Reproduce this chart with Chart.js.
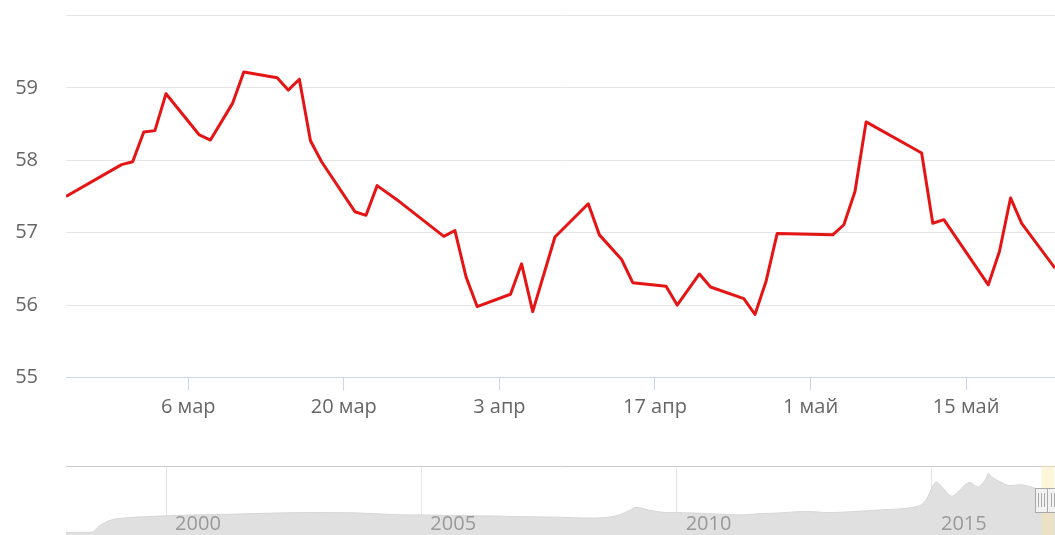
<!DOCTYPE html>
<html>
<head>
<meta charset="utf-8">
<script src="https://cdn.jsdelivr.net/npm/chart.js@4.4.1/dist/chart.umd.min.js"></script>
<style>
  html, body { margin:0; padding:0; background:#fff; width:1055px; height:535px; overflow:hidden; }
  #main { position:absolute; left:0; top:0; }
  #nav { position:absolute; left:0; top:460px; }
</style>
</head>
<body>
<canvas id="main" width="1055" height="430"></canvas>
<canvas id="nav" width="1055" height="80"></canvas>
<script>
// ---- Main series (USD/RUB, spring 2017) ----
const dates = ['2017-02-23','2017-02-28','2017-03-01','2017-03-02','2017-03-03','2017-03-04',
  '2017-03-07','2017-03-08','2017-03-10','2017-03-11','2017-03-14','2017-03-15','2017-03-16',
  '2017-03-17','2017-03-18','2017-03-21','2017-03-22','2017-03-23','2017-03-25','2017-03-29',
  '2017-03-30','2017-03-31','2017-04-01','2017-04-04','2017-04-05','2017-04-06','2017-04-08',
  '2017-04-11','2017-04-12','2017-04-14','2017-04-15','2017-04-18','2017-04-19','2017-04-21',
  '2017-04-22','2017-04-25','2017-04-26','2017-04-27','2017-04-28','2017-05-03','2017-05-04',
  '2017-05-05','2017-05-06','2017-05-11','2017-05-12','2017-05-13','2017-05-17','2017-05-18',
  '2017-05-19','2017-05-20','2017-05-23'];
const values = [57.50,57.94,57.98,58.39,58.41,58.92,
  58.35,58.28,58.79,59.22,59.14,58.97,59.12,
  58.27,57.98,57.29,57.24,57.65,57.43,56.95,
  57.03,56.39,55.98,56.15,56.57,55.91,56.94,
  57.40,56.97,56.63,56.31,56.26,56.00,56.43,
  56.25,56.09,55.87,56.33,56.99,56.97,57.11,
  57.57,58.53,58.10,57.13,57.18,56.28,56.74,
  57.48,57.13,56.51];
const xTickDates = ['2017-03-06','2017-03-20','2017-04-03','2017-04-17','2017-05-01','2017-05-15'];
const xTickLabels = ['6 мар','20 мар','3 апр','17 апр','1 май','15 май'];
const yTicks = [55,56,57,58,59,60];
const yTickLabels = ['55','56','57','58','59',''];
const rangeStart = '2017-02-23';
const rangeEnd = '2017-05-23';

// ---- Navigator series (long history, years) ----
const navYears = [1998.04,1998.55,1998.62,1998.7,1998.85,1999.0,1999.3,1999.9,2000.5,2001.2,
  2001.9,2002.5,2003.0,2003.8,2004.5,2005.1,2005.8,2006.4,2007.0,2007.6,2008.3,2008.6,2008.85,
  2009.1,2009.2,2009.45,2009.7,2010.0,2010.5,2010.9,2011.3,2011.6,2012.0,2012.5,2013.0,2013.5,
  2014.0,2014.3,2014.6,2014.8,2014.92,2014.97,2015.08,2015.2,2015.38,2015.5,2015.65,2015.75,
  2015.9,2016.05,2016.1,2016.2,2016.35,2016.5,2016.75,2017.0,2017.15,2017.41];
const navValues = [5.6,6.0,9,14.3,20,23,25,27,28.3,29.2,
  30.5,31.3,31.5,30.9,28.8,28.3,27.5,27,26,25.5,24.3,25,28,
  35,38.4,35,32,31.5,30.5,29.2,28.5,30,31,33,31.5,33,
  35,36,38,42,52,60,71.5,65,53,58,68,71,
  65,75,82.5,77,71.5,67,68,64,59,57];
const navYearTicks = [2000,2005,2010,2015];
const navYearLabels = ['2000','2005','2010','2015'];

const FONT = "'Open Sans', 'DejaVu Sans', sans-serif";
function dayNum(s){
  const p = s.split('-').map(Number);
  return (Date.UTC(p[0],p[1]-1,p[2]) - Date.UTC(2017,2,1)) / 86400000;
}
function yearFrac(s){
  const p = s.split('-').map(Number);
  const a = Date.UTC(p[0],0,1), b = Date.UTC(p[0]+1,0,1);
  return p[0] + (Date.UTC(p[0],p[1]-1,p[2]) - a)/(b-a);
}

new Chart(document.getElementById('main'), {
  type:'line',
  data:{ datasets:[{
    data: dates.map((d,i)=>({x:dayNum(d), y:values[i]})),
    borderColor:'#e51515', borderWidth:3, pointRadius:0, tension:0, fill:false,
    borderJoinStyle:'round'
  }]},
  options:{
    responsive:false, animation:false, devicePixelRatio:1,
    layout:{ padding:{ top:15.5, left:0, right:0, bottom:0 } },
    plugins:{ legend:{display:false}, tooltip:{enabled:false} },
    scales:{
      x:{
        type:'linear', min:dayNum(rangeStart), max:dayNum(rangeEnd),
        afterBuildTicks:s=>{ s.ticks = xTickDates.map(d=>({value:dayNum(d)})); },
        afterFit:s=>{ s.height = 430-377.5; s.paddingLeft = 0; s.paddingRight = 0; },
        ticks:{ callback:(v,i)=>xTickLabels[i], autoSkip:false, maxRotation:0, minRotation:0,
          color:'#666666', font:{family:FONT, size:20}, padding:5 },
        grid:{ drawOnChartArea:false, drawTicks:true, tickLength:13, color:'#ccd6eb' },
        border:{ color:'#ccd6eb', width:1 }
      },
      y:{
        min:55, max:60,
        afterBuildTicks:s=>{ s.ticks = yTicks.map(v=>({value:v})); },
        afterFit:s=>{ s.width = 66; s.paddingTop = 0; s.paddingBottom = 0; },
        ticks:{ callback:(v,i)=>yTickLabels[i], color:'#666666', font:{family:FONT, size:20}, padding:28 },
        grid:{ color:'#e6e6e6', drawTicks:false, lineWidth:1 },
        border:{ display:false }
      }
    }
  }
});

const navPlugin = {
  id:'navDecor',
  beforeDatasetsDraw(chart){
    const c = chart.ctx, a = chart.chartArea;
    c.save();
    c.strokeStyle = '#cccccc'; c.lineWidth = 1;
    c.beginPath(); c.moveTo(a.left, a.top+0.5); c.lineTo(a.right, a.top+0.5); c.stroke();
    c.restore();
  },
  afterDatasetsDraw(chart){
    const c = chart.ctx, a = chart.chartArea, xs = chart.scales.x;
    c.save();
    c.fillStyle = '#999999';
    c.font = "20px " + FONT;
    c.textAlign = 'left'; c.textBaseline = 'middle';
    navYearTicks.forEach((y,i)=>{ c.fillText(navYearLabels[i], xs.getPixelForValue(y)+9, 64); });
    const x0 = xs.getPixelForValue(yearFrac(rangeStart));
    const x1 = xs.getPixelForValue(yearFrac(rangeEnd));
    c.fillStyle = 'rgba(255,226,150,0.35)';
    c.fillRect(x0, a.top, x1-x0, a.bottom-a.top);
    [x0, x1].forEach(hx=>{
      const w = 13, h = 24, hy = 40;
      c.fillStyle = '#f2f2f2'; c.strokeStyle = '#aaaaaa'; c.lineWidth = 1;
      c.fillRect(Math.round(hx - w/2)+0.5, hy - h/2 + 0.5, w, h);
      c.strokeRect(Math.round(hx - w/2)+0.5, hy - h/2 + 0.5, w, h);
      c.beginPath();
      [-3,0,3].forEach(o=>{ c.moveTo(Math.round(hx)+o+0.5, hy-7); c.lineTo(Math.round(hx)+o+0.5, hy+7); });
      c.stroke();
    });
    c.restore();
  }
};

new Chart(document.getElementById('nav'), {
  type:'line',
  data:{ datasets:[{
    data: navYears.map((y,i)=>({x:y, y:navValues[i]})),
    borderColor:'#d6d6d6', borderWidth:1, backgroundColor:'#e0e0e0',
    fill:'origin', pointRadius:0, tension:0.3
  }]},
  options:{
    responsive:false, animation:false, devicePixelRatio:1,
    layout:{ padding:{ top:6, left:66, right:0, bottom:3.4 } },
    plugins:{ legend:{display:false}, tooltip:{enabled:false} },
    scales:{
      x:{
        type:'linear', min:1998.04, max:2017.41,
        afterBuildTicks:s=>{ s.ticks = navYearTicks.map(v=>({value:v})); },
        afterFit:s=>{ s.height = 0; },
        ticks:{ display:false },
        grid:{ color:'#e6e6e6', drawTicks:false, lineWidth:1 },
        border:{ display:false }
      },
      y:{ display:false, min:0, max:92.6 }
    }
  },
  plugins:[navPlugin]
});
</script>
</body>
</html>
